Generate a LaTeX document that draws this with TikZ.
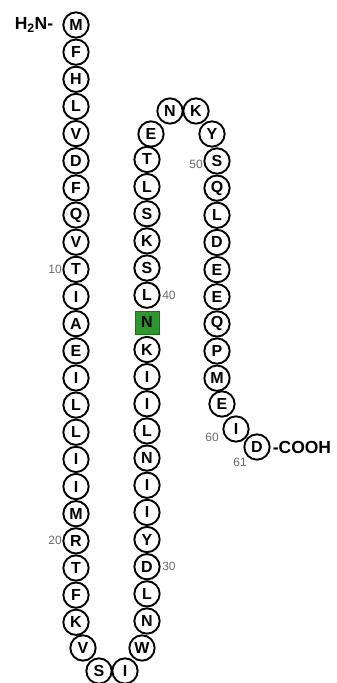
\documentclass[tikz,border=0pt]{standalone}
\usepackage{fontspec}
\setmainfont{Liberation Sans}
\usepackage{xcolor}
\usepackage{tikz}
\usetikzlibrary{positioning}
\definecolor{resgreen}{RGB}{46,150,46}
\definecolor{resgreendark}{RGB}{25,110,25}
\definecolor{resgrey}{RGB}{105,105,105}

\begin{document}
\begin{tikzpicture}[x=1pt, y=-1pt,
    res/.style={circle, draw, line width=1.9pt, minimum size=25.3pt,
                inner sep=0pt, font=\fontsize{16}{16}\selectfont\bfseries},
    hit/.style={rectangle, draw=resgreendark, fill=resgreen, line width=0.6pt,
                minimum width=24pt, minimum height=23pt, inner sep=0pt,
                font=\fontsize{16}{16}\selectfont\bfseries},
    num/.style={font=\fontsize{12}{12}\selectfont, text=resgrey, inner sep=0pt},
    term/.style={font=\fontsize{17.5}{17.5}\selectfont\bfseries, inner sep=0pt},
  ]
  \useasboundingbox (0,0) rectangle (337,683);

  % N-kraj, lijevi stupac (1--23)
  \foreach \aa [count=\i] in {M,F,H,L,V,D,F,Q,V,T,I,A,E,I,L,L,I,I,M,R,T,F,K}
    \node[res] (r\i) at (76,{25+(\i-1)*27.15}) {\aa};

  % Donji zavoj
  \node[res] (r24) at (83,648) {V};
  \node[res] (r25) at (99,671) {S};
  \node[res] (r26) at (125,671) {I};
  \node[res] (r27) at (142,648) {W};

  % Srednji stupac (28--45)
  \foreach \aa [count=\j] in {N,L,D,Y,I,I,N,L,I,I,K,N,L,S,K,S,L,T} {
    \pgfmathtruncatemacro{\i}{\j+27}
    \ifnum\i=39
      \node[hit] (r\i) at (147,{621-(\j-1)*27.15}) {\aa};
    \else
      \node[res] (r\i) at (147,{621-(\j-1)*27.15}) {\aa};
    \fi
  }

  % Gornji zavoj
  \node[res] (r46) at (151,134) {E};
  \node[res] (r47) at (170,111) {N};
  \node[res] (r48) at (196,111) {K};
  \node[res] (r49) at (212,134) {Y};

  % Desni stupac (50--58)
  \foreach \aa [count=\j] in {S,Q,L,D,E,E,Q,P,M} {
    \pgfmathtruncatemacro{\i}{\j+49}
    \node[res] (r\i) at (217,{161+(\j-1)*27.15}) {\aa};
  }

  % C-kraj
  \node[res] (r59) at (222,404) {E};
  \node[res] (r60) at (236,429) {I};
  \node[res] (r61) at (257,447) {D};

  % Krajevi lanca
  \node[term, left=9pt of r1] (nterm) {H\textsubscript{2}N-};
  \node[term, right=2pt of r61] (cterm) {-COOH};

  % Brojevi
  \node[num, left=0.5pt of r10] (n10) {10};
  \node[num, left=0.5pt of r20] (n20) {20};
  \node[num, right=1.5pt of r30] (n30) {30};
  \node[num, right=1.5pt of r40] (n40) {40};
  \node[num, left=0.5pt of r50, yshift=-3pt] (n50) {50};
  \node[num] (n60) at ([xshift=-24pt, yshift=-8pt]r60.center) {60};
  \node[num] (n61) at ([xshift=-17pt, yshift=-15pt]r61.center) {61};
\end{tikzpicture}
\end{document}
